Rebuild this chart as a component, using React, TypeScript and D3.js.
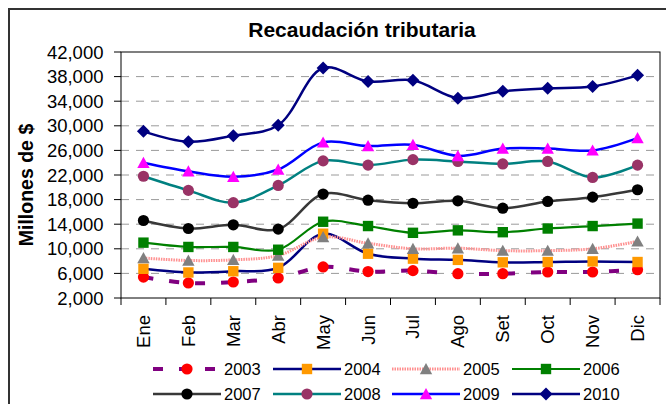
import React from "react";
import * as d3 from "d3";

const months = ["Ene", "Feb", "Mar", "Abr", "May", "Jun", "Jul", "Ago", "Set", "Oct", "Nov", "Dic"];
const yTicks = [2000, 6000, 10000, 14000, 18000, 22000, 26000, 30000, 34000, 38000, 42000];

const s2003 = [5400, 4450, 4600, 5250, 7050, 6300, 6450, 5950, 5950, 6230, 6230, 6600];
const s2004 = [6750, 6150, 6350, 6900, 12450, 9200, 8400, 8200, 7800, 7850, 7950, 7850];
const s2005 = [8500, 8100, 8200, 8900, 11900, 10900, 10000, 10100, 9700, 9700, 10000, 11200];
const s2006 = [11000, 10300, 10300, 9850, 14400, 13700, 12600, 13000, 12700, 13300, 13700, 14100];
const s2007 = [14600, 13300, 13900, 13200, 18900, 17900, 17400, 17800, 16600, 17700, 18400, 19600];
const s2008 = [21800, 19500, 17500, 20300, 24300, 23600, 24500, 24200, 23800, 24200, 21600, 23600];
const s2009 = [24000, 22600, 21700, 22900, 27300, 26700, 26900, 25100, 26300, 26300, 26000, 28000];
const s2010 = [29100, 27400, 28400, 30100, 39400, 37200, 37400, 34500, 35600, 36100, 36400, 38200];

const seriesNames = ["2003", "2004", "2005", "2006", "2007", "2008", "2009", "2010"];
const seriesValues = [s2003, s2004, s2005, s2006, s2007, s2008, s2009, s2010];

type Style = { line: string; width: number; dash?: string; marker: string; shape: string; opacity?: number };
const styles: Style[] = [
  { line: "#800080", width: 4, dash: "10,16", marker: "#FF0000", shape: "circle" },
  { line: "#000080", width: 2.5, marker: "#FF9900", shape: "square" },
  { line: "#FF8F8F", width: 3, dash: "1.5,1", marker: "#808080", shape: "triangle" },
  { line: "#008000", width: 2.2, marker: "#008000", shape: "square" },
  { line: "#383838", width: 2.5, marker: "#000000", shape: "circle" },
  { line: "#008080", width: 2.5, marker: "#993366", shape: "circle" },
  { line: "#0000FF", width: 2.5, marker: "#FF00FF", shape: "triangle" },
  { line: "#000080", width: 2.5, marker: "#000080", shape: "diamond" },
];

const FONT = "'Liberation Sans', Arial, Helvetica, sans-serif";

function Marker({ shape, color, x, y }: { shape: string; color: string; x: number; y: number }) {
  if (shape === "circle") return <circle cx={x} cy={y} r={5.6} fill={color} />;
  if (shape === "square") return <rect x={x - 5.2} y={y - 5.2} width={10.4} height={10.4} fill={color} />;
  if (shape === "triangle")
    return <path d={`M${x},${y - 6}L${x + 6.2},${y + 5.2}L${x - 6.2},${y + 5.2}Z`} fill={color} />;
  return <path d={`M${x},${y - 6.5}L${x + 6.5},${y}L${x},${y + 6.5}L${x - 6.5},${y}Z`} fill={color} />;
}

export default function App() {
  const W = 666, H = 404;
  const left = 121, right = 660, top = 52, bottom = 298;
  const x = d3.scaleBand<string>().domain(months).range([left, right]);
  const y = d3.scaleLinear().domain([2000, 42000]).range([bottom, top]);
  const cx = (m: string) => (x(m) as number) + x.bandwidth() / 2;
  const line = d3
    .line<number>()
    .x((_, i) => cx(months[i]))
    .y((v) => y(v))
    .curve(d3.curveCatmullRom.alpha(0.5));

  const legendCols = [153, 273, 392, 512];
  const legendRows = [369, 394];

  return (
    <svg width={W} height={H} style={{ position: "absolute", left: 0, top: 0, background: "#fff" }} fontFamily={FONT}>
      <rect x={0} y={0} width={W} height={H} fill="#fff" />
      <rect x={9} y={9} width={720} height={500} fill="none" stroke="#333" strokeWidth={2} />
      <text x={362} y={36.5} textAnchor="middle" fontSize={21} fontWeight="bold" fill="#000">
        Recaudación tributaria
      </text>
      {/* gridlines */}
      {yTicks.filter((t) => t > 2000 && t < 42000).map((t) => (
        <line key={"g" + t} x1={left} x2={right} y1={y(t)} y2={y(t)} stroke="#9a9a9a" strokeWidth={1} strokeDasharray="8,7" />
      ))}
      {/* plot border */}
      <rect x={left} y={top} width={right - left} height={bottom - top} fill="none" stroke="#000" strokeWidth={1} />
      {/* y ticks */}
      {yTicks.map((t) => (
        <g key={"y" + t}>
          <line x1={left - 7} x2={left} y1={y(t)} y2={y(t)} stroke="#000" />
          <text x={103.5} y={y(t)} dy="0.36em" textAnchor="end" fontSize={18.5} fill="#000">
            {d3.format(",")(t)}
          </text>
        </g>
      ))}
      {/* x ticks */}
      {d3.range(months.length + 1).map((i) => {
        const xx = left + i * x.step();
        return <line key={"xt" + i} x1={xx} x2={xx} y1={bottom} y2={bottom + 7} stroke="#000" />;
      })}
      {months.map((m) => (
        <text key={m} transform={`translate(${cx(m)},315) rotate(-90)`} dy="0.35em" textAnchor="end" fontSize={18.5} fill="#000">
          {m}
        </text>
      ))}
      <text transform="translate(33,185) rotate(-90)" textAnchor="middle" fontSize={19.5} fontWeight="bold" fill="#000">
        Millones de $
      </text>
      {/* lines */}
      {seriesValues.map((vals, si) => (
        <path
          key={"l" + si}
          d={line(vals) as string}
          fill="none"
          stroke={styles[si].line}
          strokeWidth={styles[si].width}
          strokeDasharray={styles[si].dash}
        />
      ))}
      {/* markers */}
      {seriesValues.map((vals, si) => (
        <g key={"m" + si}>
          {vals.map((v, i) => (
            <Marker key={i} shape={styles[si].shape} color={styles[si].marker} x={cx(months[i])} y={y(v)} />
          ))}
        </g>
      ))}
      {/* legend */}
      {seriesNames.map((name, si) => {
        const lx = legendCols[si % 4];
        const ly = legendRows[Math.floor(si / 4)];
        const st = styles[si];
        return (
          <g key={"lg" + name}>
            <line x1={lx} x2={lx + 68} y1={ly} y2={ly} stroke={st.line} strokeWidth={st.width} strokeDasharray={st.dash} />
            <Marker shape={st.shape} color={st.marker} x={lx + 34} y={ly} />
            <text x={lx + 71} y={ly} dy="0.36em" fontSize={16.5} fill="#000">
              {name}
            </text>
          </g>
        );
      })}
    </svg>
  );
}
